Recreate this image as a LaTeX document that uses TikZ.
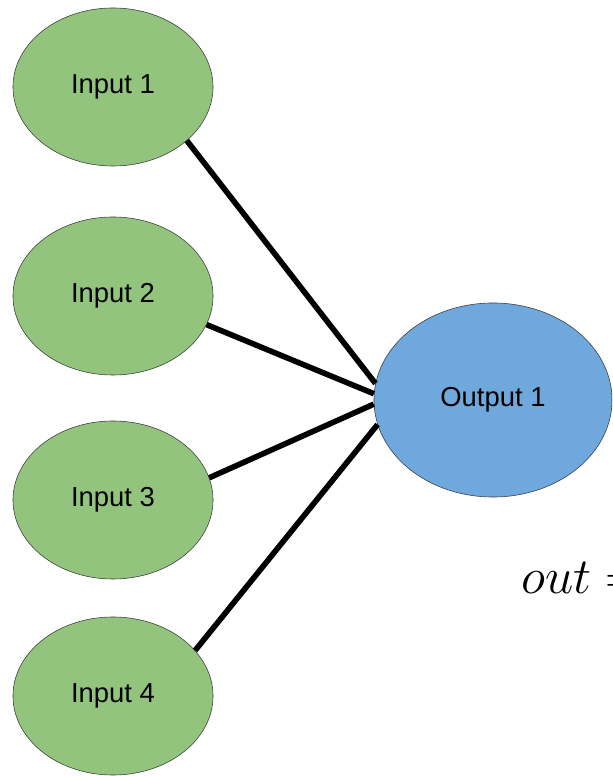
\documentclass[tikz,border=0pt]{standalone}
\usepackage{fontspec}
\setsansfont{Liberation Sans}
\usepackage{xcolor}
\usepackage{tikz}
\usetikzlibrary{shapes.geometric}
\definecolor{greenx}{HTML}{93C47D}
\definecolor{bluex}{HTML}{6FA8DC}
\definecolor{edgex}{HTML}{3A3A3A}
\tikzset{
  inp/.style={ellipse,draw=edgex,thin,fill=greenx,minimum width=5cm,minimum height=3.95cm,inner sep=0pt,font=\sffamily\fontsize{19.5}{22}\selectfont},
  outp/.style={ellipse,draw=edgex,thin,fill=bluex,minimum width=5.95cm,minimum height=4.85cm,inner sep=0pt,font=\sffamily\fontsize{19.5}{22}\selectfont},
  ln/.style={line width=4pt,black}
}
\begin{document}
\begin{tikzpicture}[x=0.025cm,y=0.025cm]
\useasboundingbox (0,0) rectangle (612,776);
\clip (0,0) rectangle (612,776);
\foreach \i/\yy in {1/689,2/480,3/276,4/80}{\node[inp] (in\i) at (113,\yy) {Input \i};}
\node[outp] (out) at (493,376) {Output 1};
\foreach \i/\a/\b in {1/-36/172,2/-17/177,3/13/182,4/29/192}{\draw[ln] (in\i.\a) -- (out.\b);}
\node[anchor=west,inner sep=0pt,scale=1.45,font=\Huge] (eq) at (521,198) {$out =$};
\end{tikzpicture}
\end{document}
